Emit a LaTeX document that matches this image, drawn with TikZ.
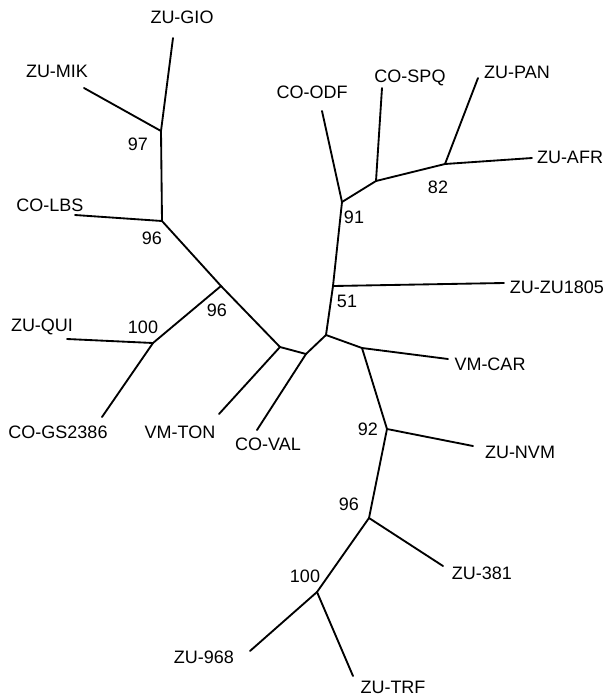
\documentclass[tikz,border=0pt]{standalone}
\usepackage{fontspec}
\setmainfont{Liberation Sans}
\begin{document}
\begin{tikzpicture}[x=1pt,y=-1pt,
  branch/.style={line width=1.85pt,line cap=round,line join=round},
  taxon/.style={inner sep=0pt,font=\fontsize{18}{20}\selectfont},
  support/.style={inner sep=0pt,font=\fontsize{18}{20}\selectfont}]
\useasboundingbox (0,0) rectangle (605,697);
% internal nodes
\coordinate (n97) at (161,131);
\coordinate (n96a) at (162,221);
\coordinate (n96b) at (221,286);
\coordinate (n100a) at (153,343);
\coordinate (nA) at (280,347);
\coordinate (nB) at (306,354);
\coordinate (nC) at (326,335);
\coordinate (n51) at (333,286);
\coordinate (n91) at (342,202);
\coordinate (nE) at (376,181);
\coordinate (n82) at (445,164);
\coordinate (nD) at (362,348);
\coordinate (n92) at (387,429);
\coordinate (n96c) at (369,518);
\coordinate (n100b) at (317,592);
% leaf tips
\coordinate (tGIO) at (173,38);
\coordinate (tMIK) at (84,88);
\coordinate (tLBS) at (75,215);
\coordinate (tQUI) at (67,339);
\coordinate (tGS) at (102,417);
\coordinate (tTON) at (219,414);
\coordinate (tVAL) at (257,430);
\coordinate (tODF) at (322,111);
\coordinate (tSPQ) at (382,88);
\coordinate (tPAN) at (478,78);
\coordinate (tAFR) at (532,158);
\coordinate (tZU) at (504,283);
\coordinate (tCAR) at (448,359);
\coordinate (tNVM) at (473,446);
\coordinate (t381) at (443,566);
\coordinate (t968) at (250,651);
\coordinate (tTRF) at (353,676);
% branches
\draw[branch] (tGIO) -- (n97);
\draw[branch] (tMIK) -- (n97);
\draw[branch] (n97) -- (n96a);
\draw[branch] (tLBS) -- (n96a);
\draw[branch] (n96a) -- (n96b);
\draw[branch] (n96b) -- (nA);
\draw[branch] (n96b) -- (n100a);
\draw[branch] (n100a) -- (tQUI);
\draw[branch] (n100a) -- (tGS);
\draw[branch] (nA) -- (tTON);
\draw[branch] (nA) -- (nB);
\draw[branch] (nB) -- (tVAL);
\draw[branch] (nB) -- (nC);
\draw[branch] (nC) -- (n51);
\draw[branch] (n51) -- (tZU);
\draw[branch] (n51) -- (n91);
\draw[branch] (n91) -- (tODF);
\draw[branch] (n91) -- (nE);
\draw[branch] (nE) -- (tSPQ);
\draw[branch] (nE) -- (n82);
\draw[branch] (n82) -- (tPAN);
\draw[branch] (n82) -- (tAFR);
\draw[branch] (nC) -- (nD);
\draw[branch] (nD) -- (tCAR);
\draw[branch] (nD) -- (n92);
\draw[branch] (n92) -- (tNVM);
\draw[branch] (n92) -- (n96c);
\draw[branch] (n96c) -- (t381);
\draw[branch] (n96c) -- (n100b);
\draw[branch] (n100b) -- (t968);
\draw[branch] (n100b) -- (tTRF);
% taxon labels
\node[taxon] (lGIO) at (182,17) {ZU-GIO};
\node[taxon] (lMIK) at (57,71) {ZU-MIK};
\node[taxon] (lLBS) at (50,205) {CO-LBS};
\node[taxon] (lQUI) at (42,327) {ZU-QUI};
\node[taxon] (lGS) at (58,432) {CO-GS2386};
\node[taxon] (lTON) at (180,432) {VM-TON};
\node[taxon] (lVAL) at (268,444) {CO-VAL};
\node[taxon] (lODF) at (312,92) {CO-ODF};
\node[taxon] (lSPQ) at (410,78) {CO-SPQ};
\node[taxon] (lPAN) at (517,72) {ZU-PAN};
\node[taxon] (lAFR) at (570,157) {ZU-AFR};
\node[taxon] (lZU) at (557,287) {ZU-ZU1805};
\node[taxon] (lCAR) at (490,364) {VM-CAR};
\node[taxon] (lNVM) at (520,452) {ZU-NVM};
\node[taxon] (l381) at (482,573) {ZU-381};
\node[taxon] (l968) at (204,657) {ZU-968};
\node[taxon] (lTRF) at (393,687) {ZU-TRF};
% bootstrap support values
\node[support] (s97) at (138,144) {97};
\node[support] (s96a) at (152,238) {96};
\node[support] (s96b) at (217,310) {96};
\node[support] (s100a) at (143,327) {100};
\node[support] (s51) at (347,301) {51};
\node[support] (s91) at (354,217) {91};
\node[support] (s82) at (438,187) {82};
\node[support] (s92) at (368,429) {92};
\node[support] (s96c) at (349,504) {96};
\node[support] (s100b) at (305,576) {100};
\end{tikzpicture}
\end{document}
